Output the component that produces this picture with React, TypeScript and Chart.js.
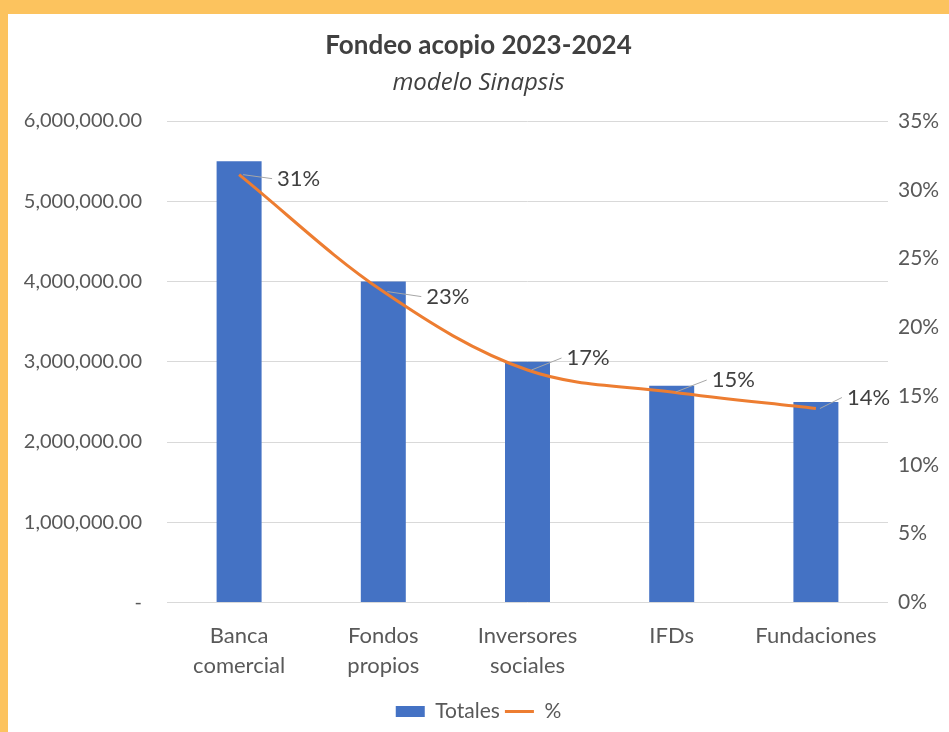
import React, { useEffect, useRef } from "react";
import { Chart, registerables } from "chart.js";

Chart.register(...registerables);

const categories: (string | string[])[] = [
  ["Banca", "comercial"],
  ["Fondos", "propios"],
  ["Inversores", "sociales"],
  "IFDs",
  "Fundaciones",
];
const totales = [5500000, 4000000, 3000000, 2700000, 2500000];
const porcentajes = [31.1, 22.6, 16.9, 15.3, 14.1];
const porcentajeLabels = ["31%", "23%", "17%", "15%", "14%"];
const leftTickLabels = [
  "-",
  "1,000,000.00",
  "2,000,000.00",
  "3,000,000.00",
  "4,000,000.00",
  "5,000,000.00",
  "6,000,000.00",
];
const rightTickLabels = ["0%", "5%", "10%", "15%", "20%", "25%", "30%", "35%"];

const BLUE = "#4472C4";
const ORANGE = "#ED7D31";
const FONT = "Lato, 'Open Sans', sans-serif";

// label offsets (px) relative to each line point
const labelOffsets = [
  [38, 4],
  [43, 5],
  [39, -12],
  [40, -12],
  [31, -11],
];

const dataLabelPlugin = {
  id: "pctLabels",
  afterDatasetsDraw(chart: any) {
    const meta = chart.getDatasetMeta(1);
    const ctx = chart.ctx;
    ctx.save();
    meta.data.forEach((pt: any, i: number) => {
      const [dx, dy] = labelOffsets[i];
      const x = pt.x;
      const y = pt.y;
      ctx.strokeStyle = "#A6A6A6";
      ctx.lineWidth = 1;
      ctx.beginPath();
      ctx.moveTo(x + 4, y);
      ctx.lineTo(x + dx - 5, y + dy);
      ctx.stroke();
      ctx.fillStyle = "#404040";
      ctx.font = `22px ${FONT}`;
      ctx.textAlign = "left";
      ctx.textBaseline = "middle";
      ctx.fillText(porcentajeLabels[i], x + dx, y + dy);
    });
    ctx.restore();
  },
};

export default function App() {
  const ref = useRef<HTMLCanvasElement>(null);

  useEffect(() => {
    if (!ref.current) return;
    const chart = new Chart(ref.current, {
      type: "bar",
      data: {
        labels: categories,
        datasets: [
          {
            type: "bar",
            label: "Totales",
            data: totales,
            backgroundColor: BLUE,
            borderWidth: 0,
            yAxisID: "y",
            categoryPercentage: 1,
            barPercentage: 0.312,
            order: 1,
          } as any,
          {
            type: "line",
            label: "%",
            data: porcentajes,
            borderColor: ORANGE,
            borderWidth: 3,
            pointRadius: 0,
            tension: 0.35,
            fill: false,
            yAxisID: "y1",
            order: 0,
          } as any,
        ],
      },
      options: {
        responsive: false,
        animation: false,
        layout: { padding: 0 },
        scales: {
          x: {
            grid: { display: false, drawTicks: false },
            border: { display: false },
            ticks: {
              color: "#595959",
              font: { family: FONT, size: 22, lineHeight: 1.4 },
              padding: 17.6,
              maxRotation: 0,
              autoSkip: false,
            },
            afterFit: (s: any) => {
              s.height = 93.5;
            },
          },
          y: {
            position: "left",
            min: 0,
            max: 6000000,
            grid: { color: "#D9D9D9", lineWidth: 1, drawTicks: false },
            border: { display: false },
            ticks: {
              stepSize: 1000000,
              color: "#595959",
              font: { family: FONT, size: 20 },
              padding: 25,
              callback: (_v: any, i: number) => leftTickLabels[i],
            },
            afterFit: (s: any) => {
              s.width = 159;
            },
          },
          y1: {
            position: "right",
            min: 0,
            max: 35,
            grid: { display: false, drawTicks: false },
            border: { display: false },
            ticks: {
              stepSize: 5,
              color: "#595959",
              font: { family: FONT, size: 21 },
              padding: 10,
              callback: (_v: any, i: number) => rightTickLabels[i],
            },
            afterFit: (s: any) => {
              s.width = 61;
            },
          },
        },
        plugins: {
          title: {
            display: true,
            text: "Fondeo acopio 2023-2024",
            color: "#404040",
            font: { family: FONT, size: 26, weight: "bold", lineHeight: 1.2 },
            padding: { top: 16.4, bottom: 0 },
          },
          subtitle: {
            display: true,
            text: "modelo Sinapsis",
            color: "#404040",
            font: { family: "'Open Sans', Lato, sans-serif", size: 24, style: "italic", lineHeight: 1.2 },
            padding: { top: 7, bottom: 23.6 },
          },
          legend: {
            display: true,
            position: "bottom",
            labels: {
              usePointStyle: true,
              pointStyleWidth: 29,
              boxHeight: 11,
              padding: 5,
              color: "#595959",
              font: { family: FONT, size: 21 },
              generateLabels: () => [
                {
                  text: "Totales",
                  fillStyle: BLUE,
                  strokeStyle: BLUE,
                  lineWidth: 0,
                  pointStyle: "rect",
                  datasetIndex: 0,
                  fontColor: "#595959",
                } as any,
                {
                  text: "%",
                  fillStyle: ORANGE,
                  strokeStyle: ORANGE,
                  lineWidth: 3,
                  pointStyle: "line",
                  datasetIndex: 1,
                  fontColor: "#595959",
                } as any,
              ],
            },
          },
          tooltip: { enabled: false },
        },
      } as any,
      plugins: [dataLabelPlugin],
    });
    return () => chart.destroy();
  }, []);

  return (
    <div
      style={{
        position: "absolute",
        left: 0,
        top: 0,
        width: 949,
        height: 732,
        background: "#FCC35E",
        overflow: "hidden",
      }}
    >
      <div
        style={{
          position: "absolute",
          left: 8,
          top: 14,
          width: 941,
          height: 718,
          background: "#FFFFFF",
        }}
      >
        <canvas ref={ref} width={941} height={718} style={{ display: "block" }} />
      </div>
    </div>
  );
}
